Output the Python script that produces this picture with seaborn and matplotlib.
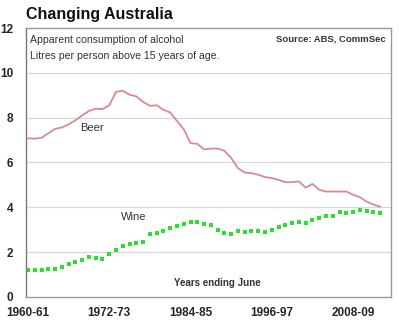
import matplotlib
matplotlib.use("Agg")
import matplotlib.pyplot as plt
import seaborn as sns
import pandas as pd
import numpy as np

# Financial years 1960-61 .. 2012-13
start_years = list(range(1960, 2013))
year_labels = [f"{y}-{str(y + 1)[-2:]}" for y in start_years]

# Litres of pure alcohol per person aged 15+
beer = [7.08, 7.06, 7.10, 7.30, 7.50, 7.56, 7.70, 7.88, 8.10, 8.30,
        8.40, 8.38, 8.55, 9.15, 9.20, 9.02, 8.95, 8.70, 8.53, 8.55,
        8.35, 8.23, 7.85, 7.48, 6.86, 6.83, 6.58, 6.62, 6.62, 6.52,
        6.20, 5.75, 5.55, 5.52, 5.45, 5.35, 5.30, 5.22, 5.12, 5.12,
        5.15, 4.88, 5.04, 4.78, 4.70, 4.70, 4.70, 4.70, 4.56, 4.45,
        4.25, 4.12, 4.03]
wine = [1.18, 1.18, 1.20, 1.23, 1.24, 1.33, 1.45, 1.55, 1.66, 1.80,
        1.74, 1.71, 1.92, 2.10, 2.26, 2.38, 2.42, 2.44, 2.80, 2.87,
        2.96, 3.09, 3.17, 3.26, 3.36, 3.36, 3.27, 3.23, 2.99, 2.87,
        2.80, 2.93, 2.89, 2.92, 2.92, 2.90, 2.99, 3.14, 3.21, 3.29,
        3.32, 3.29, 3.44, 3.51, 3.59, 3.62, 3.78, 3.74, 3.78, 3.88,
        3.84, 3.81, 3.74]

tick_labels = ["1960-61", "1972-73", "1984-85", "1996-97", "2008-09"]

df = pd.DataFrame({"idx": np.arange(len(year_labels)), "year": year_labels,
                   "Beer": beer, "Wine": wine})

sns.set_theme(style="white")
plt.rcParams["font.family"] = ["Liberation Sans", "DejaVu Sans"]

fig = plt.figure(figsize=(3.99, 3.22), dpi=100)
ax = fig.add_axes([0.065, 0.078, 0.915, 0.835])

sns.lineplot(data=df, x="idx", y="Beer", ax=ax, color="#d98b8b", linewidth=1.3)
sns.lineplot(data=df, x="idx", y="Wine", ax=ax, color="#2ee02e", linestyle="",
             marker="s", markersize=3.4, markeredgewidth=0)

ax.set_xlim(-0.3, 53.6)
ax.set_ylim(0, 12)
ax.set_yticks(range(0, 13, 2))
ax.set_yticklabels([str(v) for v in range(0, 13, 2)], fontsize=8.5, fontweight="bold")
tick_pos = [year_labels.index(t) for t in tick_labels]
ax.set_xticks(tick_pos)
ax.set_xticklabels(tick_labels, fontsize=8.5, fontweight="bold")
ax.set_xticks(df["idx"], minor=True)
ax.tick_params(axis="x", which="both", direction="in", length=2.5, color="#999999",
               pad=7)
ax.tick_params(axis="y", length=0, pad=9)
ax.set_xlabel("")
ax.set_ylabel("")

for y in range(2, 12, 2):
    ax.axhline(y, color="#d8d8d8", linewidth=0.9, zorder=0)

for side in ["left", "right", "top", "bottom"]:
    ax.spines[side].set_color("#999999")
    ax.spines[side].set_linewidth(1.0)
ax.spines["left"].set_color("#777777")

ax.text(0.012, 0.975, "Apparent consumption of alcohol", transform=ax.transAxes,
        fontsize=7.6, color="#333333", va="top", ha="left")
ax.text(0.012, 0.915, "Litres per person above 15 years of age.", transform=ax.transAxes,
        fontsize=7.6, color="#333333", va="top", ha="left")
ax.text(0.985, 0.975, "Source: ABS, CommSec", transform=ax.transAxes,
        fontsize=6.8, fontweight="bold", color="#333333", va="top", ha="right")
ax.text(9.5, 7.55, "Beer", fontsize=8, color="#333333", ha="center", va="center")
ax.text(15.6, 3.55, "Wine", fontsize=8, color="#333333", ha="center", va="center")
ax.text(28.0, 0.6, "Years ending June", fontsize=7, fontweight="bold",
        color="#333333", ha="center", va="center")

fig.text(0.065, 0.955, "Changing Australia", fontsize=11.5, fontweight="bold",
         color="#111111", ha="left", va="center")

fig.savefig("out.png", dpi=100)
